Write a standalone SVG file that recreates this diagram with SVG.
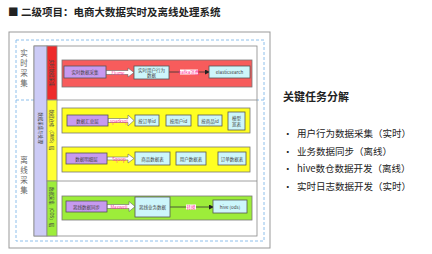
<svg xmlns="http://www.w3.org/2000/svg" width="432" height="254" viewBox="0 0 432 254">
<style>
text{font-family:"Noto Sans CJK SC","Liberation Sans",sans-serif;}
.t{font-size:4.5px;fill:#444;text-anchor:middle;dominant-baseline:central;}
.pb{fill:#c79af0;stroke:#555;stroke-width:0.8;}
.cb{fill:#cdf6fb;stroke:#555;stroke-width:0.8;}
.lbl{font-size:4.5px;fill:#ff3399;text-anchor:middle;dominant-baseline:central;}
.vt{font-size:4.5px;fill:#444;text-anchor:middle;dominant-baseline:central;}
.side{font-size:7.5px;fill:#666;text-anchor:middle;}
.bul{font-size:9.5px;fill:#222;}
</style>
<defs>
<marker id="ah" markerWidth="5" markerHeight="5" refX="4" refY="2.5" orient="auto" markerUnits="userSpaceOnUse"><path d="M0,0 L5,2.5 L0,5 Z" fill="#222"/></marker>
</defs>
<rect width="432" height="254" fill="#fff"/>
<g id="title"><text x="8" y="16" style="font-size:10.5px;font-weight:bold;fill:#222">■ 二级项目：电商大数据实时及离线处理系统</text></g>

<g id="frame">
<rect x="9" y="32" width="261" height="216" fill="#fff" stroke="#999" stroke-width="1"/>
<rect x="16" y="40" width="248" height="201" fill="none" stroke="#8ec0ec" stroke-width="1" stroke-dasharray="3,2"/>
<line x1="16" y1="100" x2="264" y2="100" stroke="#8ec0ec" stroke-width="1" stroke-dasharray="3,2"/>
<rect x="34" y="46" width="223" height="190" fill="#fff" stroke="#888" stroke-width="0.8"/>
<line x1="57" y1="100" x2="257" y2="100" stroke="#888" stroke-width="0.8"/>
<line x1="57" y1="181" x2="257" y2="181" stroke="#888" stroke-width="0.8"/>
<rect x="34" y="46" width="13" height="190" fill="#cccbf6" stroke="#888" stroke-width="0.8"/>
<rect x="47" y="46" width="10" height="54" fill="#ee2a2a" stroke="#888" stroke-width="0.8"/>
<rect x="47" y="100" width="10" height="81" fill="#ffff33" stroke="#888" stroke-width="0.8"/>
<rect x="47" y="181" width="10" height="55" fill="#9ded3a" stroke="#888" stroke-width="0.8"/>
<text class="side" x="24" y="56">实</text><text class="side" x="24" y="66">时</text><text class="side" x="24" y="76">采</text><text class="side" x="24" y="86">集</text>
<text class="side" x="24" y="163">离</text><text class="side" x="24" y="173">线</text><text class="side" x="24" y="183">采</text><text class="side" x="24" y="193">集</text>
<text class="vt" transform="translate(40.5,128) rotate(90)">数据采集与处理</text>
<text class="vt" transform="translate(52,73) rotate(90)">实时数据采集</text>
<text class="vt" transform="translate(52,130) rotate(90)">数据仓库（DWS）层</text>
<text class="vt" transform="translate(52,207) rotate(90)">数据采集（ODS）层</text>
</g>

<g id="panels">
<rect x="62" y="60" width="190" height="27" fill="#f75c5c" stroke="#777" stroke-width="0.8"/>
<rect x="62" y="108" width="188" height="25" fill="#ffff22" stroke="#777" stroke-width="0.8"/>
<rect x="62" y="147" width="188" height="25" fill="#ffff22" stroke="#777" stroke-width="0.8"/>
<rect x="62" y="196" width="190" height="24" fill="#9ded3a" stroke="#777" stroke-width="0.8"/>
</g>

<g id="connectors">
<path d="M106,70.5 L128,70.5 L128,68 L134,72.5 L128,77 L128,74.5 L106,74.5 Z" fill="#fff" stroke="#666" stroke-width="0.6"/>
<text class="lbl" x="118" y="72.5">Flume</text>
<line x1="169" y1="72" x2="209" y2="72" stroke="#333" stroke-width="0.8" marker-end="url(#ah)"/>
<rect x="180" y="69.5" width="18" height="5" fill="#fff"/>
<text class="lbl" x="189" y="72">kafka消费</text>
<path d="M108,118.5 L128,118.5 L128,115 L134,120.5 L128,126 L128,122.5 L108,122.5 Z" fill="#fff" stroke="#666" stroke-width="0.6"/>
<text class="lbl" x="119" y="120.5">sparksql</text>
<path d="M107,157 L128,157 L128,154 L134,158.5 L128,163 L128,160 L107,160 Z" fill="#fff" stroke="#666" stroke-width="0.6"/>
<text class="lbl" x="119" y="158.5">Sqoop</text>
<path d="M107,204.5 L129,204.5 L129,201.5 L135,206.5 L129,211.5 L129,208.5 L107,208.5 Z" fill="#fff" stroke="#666" stroke-width="0.6"/>
<text class="lbl" x="119" y="206.5">Maxwell</text>
<line x1="170" y1="207" x2="213" y2="207" stroke="#333" stroke-width="0.8" marker-end="url(#ah)"/>
<rect x="186" y="204.5" width="10" height="5" fill="#fff"/>
<text class="lbl" x="191" y="207">转换</text>
</g>

<g id="n1"><rect class="pb" x="64" y="66" width="42" height="12"/><text class="t" x="85" y="72">实时数据采集</text></g>
<g id="n2"><rect class="cb" x="134" y="66" width="35" height="13"/><text class="t" x="151.5" y="69.5">实时用户行为</text><text class="t" x="151.5" y="75">数据</text></g>
<g id="n3"><rect class="cb" x="209" y="66" width="41" height="12"/><text class="t" x="229.5" y="72">elasticsearch</text></g>

<g id="n4"><rect class="pb" x="67" y="115" width="41" height="11"/><text class="t" x="87.5" y="120.5">数据汇总层</text></g>
<g id="n5"><rect class="cb" x="135" y="115" width="24" height="11"/><text class="t" x="147" y="120.5">按订单id</text></g>
<g id="n6"><rect class="cb" x="166" y="115" width="25" height="11"/><text class="t" x="178.5" y="120.5">按用户id</text></g>
<g id="n7"><rect class="cb" x="198" y="115" width="24" height="11"/><text class="t" x="210" y="120.5">按商品id</text></g>
<g id="n8"><rect class="cb" x="228" y="112" width="17" height="18"/><text class="t" x="236.5" y="118">模型</text><text class="t" x="236.5" y="124">宽表</text></g>

<g id="n9"><rect class="pb" x="66" y="153" width="41" height="11"/><text class="t" x="86.5" y="158.5">数据明细层</text></g>
<g id="n10"><rect class="cb" x="135" y="152" width="35" height="13"/><text class="t" x="152.5" y="158.5">商品数据表</text></g>
<g id="n11"><rect class="cb" x="176" y="152" width="30" height="13"/><text class="t" x="191" y="158.5">用户数据表</text></g>
<g id="n12"><rect class="cb" x="218" y="152" width="28" height="13"/><text class="t" x="232" y="158.5">订单数据表</text></g>

<g id="n13"><rect class="pb" x="66" y="201" width="41" height="11"/><text class="t" x="86.5" y="206.5">离线数据同步</text></g>
<g id="n14"><rect class="cb" x="135" y="197" width="35" height="20"/><text class="t" x="152.5" y="207">离线业务数据</text></g>
<g id="n15"><rect class="cb" x="213" y="200" width="34" height="13"/><text class="t" x="230" y="206.5">hive (ods)</text></g>

<g id="tasks">
<text x="283" y="101" style="font-size:11px;font-weight:bold;fill:#222">关键任务分解</text>
<text class="bul" x="283" y="137">•</text><text class="bul" x="297" y="137">用户行为数据采集（实时）</text>
<text class="bul" x="283" y="155">•</text><text class="bul" x="297" y="155">业务数据同步（离线）</text>
<text class="bul" x="283" y="172">•</text><text class="bul" x="297" y="172">hive数仓数据开发（离线）</text>
<text class="bul" x="283" y="190">•</text><text class="bul" x="297" y="190">实时日志数据开发（实时）</text>
</g>
</svg>
